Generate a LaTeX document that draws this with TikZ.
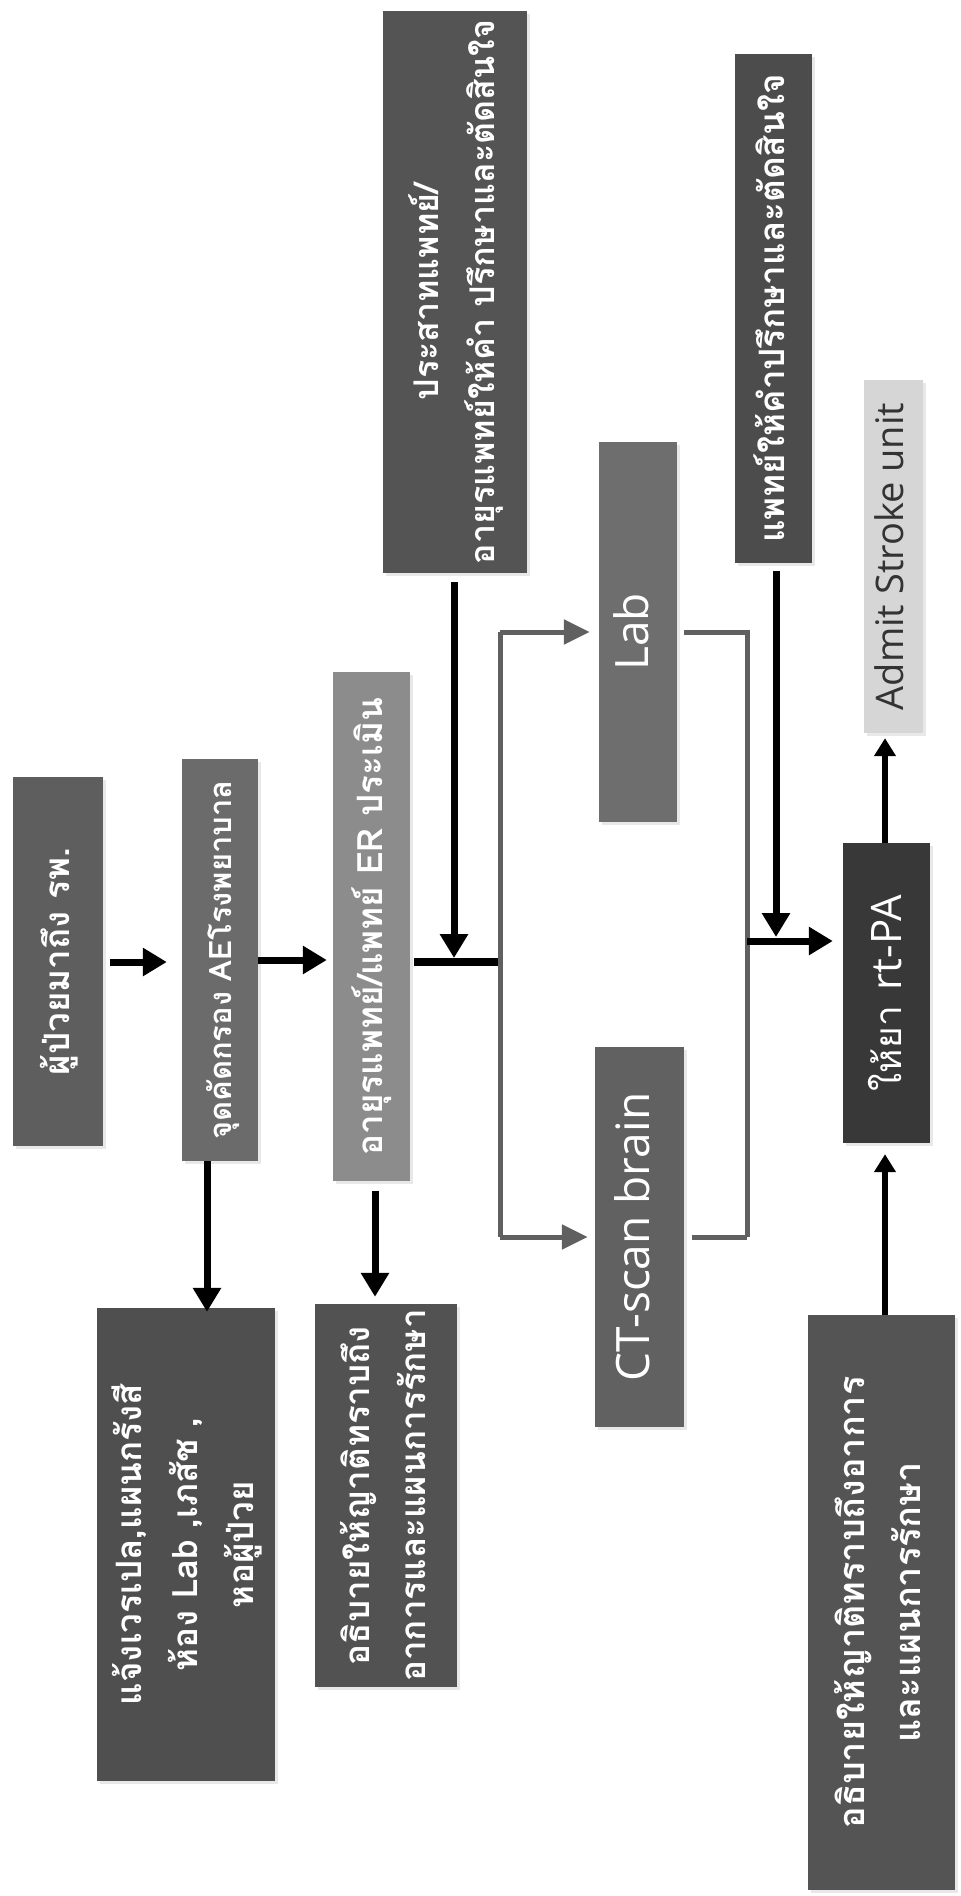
\documentclass[tikz,border=0pt]{standalone}
\usepackage{fontspec}
\setmainfont{Open Sans}
\newfontfamily\thaifont[Script=Thai]{Loma}
\usetikzlibrary{arrows.meta,shadows}

% rotated (bottom-to-top) multi-line label
\newcommand{\vlabel}[1]{\rotatebox{90}{\begin{tabular}{@{}c@{}}#1\end{tabular}}}

\begin{document}
\begin{tikzpicture}[x=1pt,y=-1pt,
  box/.style={fill=#1, inner sep=0pt, text=white,
    drop shadow={shadow xshift=3pt, shadow yshift=-3pt, opacity=0.18, fill=gray}},
  thaitext/.style={font=\thaifont\bfseries\fontsize{#1}{56}\selectfont},
  thaitext/.default=35,
  latintext/.style={font=\fontsize{#1}{50}\selectfont},
  latintext/.default=38,
  blk/.style={line width=7pt, draw=black, -{Triangle[length=24pt,width=27pt]}},
  blksmall/.style={line width=6pt, draw=black, -{Triangle[length=18pt,width=21pt]}},
  bar/.style={line width=8pt, draw=black},
  gryline/.style={line width=5pt, draw=gray!75!black},
  gry/.style={gryline, -{Triangle[length=26pt,width=24pt]}}]

\useasboundingbox[fill=white] (0,0) rectangle (961,1896);

% ---- boxes ----
\node[box=black!63, thaitext, minimum width=90pt, minimum height=369pt] (b1) at (58,961.5)
  {\vlabel{ผู้ป่วยมาถึง รพ.}};
\node[box=black!58, thaitext=31, minimum width=76pt, minimum height=402pt] (b2) at (220,960)
  {\vlabel{จุดคัดกรอง AEโรงพยาบาล}};
\node[box=black!45, thaitext, minimum width=77pt, minimum height=509pt] (b3) at (371.5,926.5)
  {\vlabel{อายุรแพทย์/แพทย์ ER ประเมิน}};
\node[box=black!67, thaitext=34, minimum width=144pt, minimum height=562pt] (b4) at (455,292)
  {\vlabel{ประสาทแพทย์/\\อายุรแพทย์ให้คำ ปรึกษาและตัดสินใจ}};
\node[box=black!57, latintext=46, minimum width=78pt, minimum height=380pt] (lab) at (638,632)
  {\vlabel{Lab}};
\node[box=black!62, latintext=46, minimum width=89pt, minimum height=380pt] (ct) at (639.5,1237)
  {\vlabel{CT-scan brain}};
\node[box=black!70, thaitext, minimum width=77pt, minimum height=509pt] (b7) at (773.5,308.5)
  {\vlabel{แพทย์ให้คำปรึกษาและตัดสินใจ}};
\node[box=black!16, text=black!80, latintext, minimum width=59pt, minimum height=353pt] (admit) at (893.5,556.5)
  {\vlabel{Admit Stroke unit}};
\node[box=black!78, minimum width=87pt, minimum height=300pt] (rtpa) at (886.5,993)
  {\vlabel{{\thaifont\fontsize{37}{46}\selectfont ให้ยา}\hspace{16pt}{\fontsize{42}{46}\selectfont rt-PA}}};
\node[box=black!69, thaitext, minimum width=178pt, minimum height=473pt] (b10) at (186,1544.5)
  {\vlabel{แจ้งเวรเปล,แผนกรังสี\\ห้อง Lab ,เภสัช ,\\หอผู้ป่วย}};
\node[box=black!68, thaitext, minimum width=142pt, minimum height=383pt] (b11) at (386,1495.5)
  {\vlabel{อธิบายให้ญาติทราบถึง\\อาการและแผนการรักษา}};
\node[box=black!67, thaitext=36, minimum width=147pt, minimum height=575pt] (b12) at (881.5,1602.5)
  {\vlabel{อธิบายให้ญาติทราบถึงอาการ\\และแผนการรักษา}};

% ---- junction points ----
\coordinate (j1) at (500,962);
\coordinate (g1) at (500,632);
\coordinate (g2) at (500,1237);
\coordinate (g3) at (747,632);
\coordinate (g4) at (747,1237);
\coordinate (j2) at (747,941);

% ---- main flow ----
\draw[blk, shorten <=7pt, shorten >=15pt] (b1.east |- 0,962) -- (b2.west |- 0,962);
\draw[blk, shorten >=6pt] (b2.east |- 0,960) -- (b3.west |- 0,960);
\draw[bar, shorten <=4pt] (b3.east |- j1) -- (j1);
\draw[blk, shorten <=9pt, shorten >=4pt] (b4.south -| 454,0) -- (j1 -| 454,0);

% ---- split to Lab and CT ----
\draw[gryline] (j1) -- (g1);
\draw[gryline] (j1) -- (g2);
\draw[gry, shorten >=9pt] (g1) -- (lab.west);
\draw[gry, shorten >=7pt] (g2) -- (ct.west);
\draw[gryline, shorten <=7pt] (lab.east) -- (g3) -- (g4);
\draw[gryline, shorten <=8pt] (ct.east) -- (g4);

% ---- to rt-PA ----
\draw[blk, shorten >=10pt] (j2) -- (rtpa.west |- j2);
\draw[blk, shorten <=8pt, shorten >=4pt] (b7.south -| 776,0) -- (j2 -| 776,0);
\draw[blksmall, shorten >=5pt] (rtpa.north -| 885,0) -- (admit.south -| 885,0);
\draw[blksmall, shorten >=11pt] (b12.north -| 885,0) -- (rtpa.south -| 885,0);

% ---- side branches ----
\draw[blk, shorten >=-4pt] (b2.south -| 207,0) -- (b10.north -| 207,0);
\draw[blk, shorten <=10pt, shorten >=7pt] (b3.south -| 375,0) -- (b11.north -| 375,0);

\end{tikzpicture}
\end{document}
